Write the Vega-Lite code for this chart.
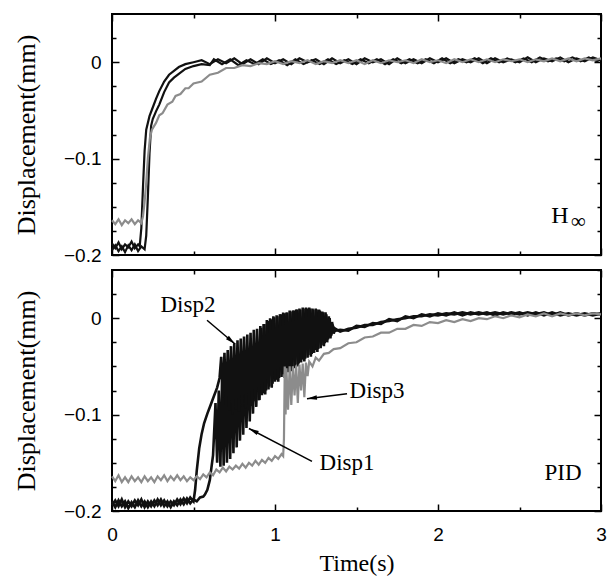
{
  "$schema": "https://vega.github.io/schema/vega-lite/v6.json",
  "background": "white",
  "padding": {"left": 12, "top": 12, "right": 5, "bottom": 5},
  "bounds": "flush",
  "spacing": 15,
  "config": {
    "view": {"stroke": "black", "strokeWidth": 2},
    "axis": {"domain": false, "grid": false, "ticks": true, "tickColor": "black", "tickWidth": 1.5, "labelColor": "black", "labelFont": "Liberation Sans", "labelFontSize": 19, "titleFont": "Liberation Serif", "titleFontSize": 26, "titleFontWeight": "normal", "titleColor": "black", "labelFlush": false, "labelOverlap": false}
  },
  "datasets": {
    "H1": [{"t":0,"v":-0.188},{"t":0.02,"v":-0.193},{"t":0.04,"v":-0.187},{"t":0.06,"v":-0.194},{"t":0.08,"v":-0.189},{"t":0.1,"v":-0.192},{"t":0.12,"v":-0.186},{"t":0.14,"v":-0.193},{"t":0.16,"v":-0.189},{"t":0.17,"v":-0.191},{"t":0.18,"v":-0.172},{"t":0.19,"v":-0.13},{"t":0.2,"v":-0.092},{"t":0.21,"v":-0.07},{"t":0.23,"v":-0.056},{"t":0.25,"v":-0.047},{"t":0.27,"v":-0.038},{"t":0.29,"v":-0.03},{"t":0.32,"v":-0.02},{"t":0.35,"v":-0.013},{"t":0.38,"v":-0.009},{"t":0.41,"v":-0.005},{"t":0.45,"v":-0.002},{"t":0.5,"v":0.0},{"t":0.55,"v":0.002},{"t":0.6,"v":-0.002},{"t":0.65,"v":0.003},{"t":0.7,"v":-0.001},{"t":0.75,"v":0.004},{"t":0.8,"v":-0.002},{"t":0.85,"v":0.003},{"t":0.9,"v":-0.002},{"t":0.95,"v":0.004},{"t":1,"v":-0.001},{"t":1.05,"v":0.003},{"t":1.1,"v":-0.002},{"t":1.15,"v":0.004},{"t":1.2,"v":0.0},{"t":1.25,"v":0.003},{"t":1.3,"v":-0.002},{"t":1.35,"v":0.004},{"t":1.4,"v":-0.001},{"t":1.45,"v":0.003},{"t":1.5,"v":-0.002},{"t":1.55,"v":0.004},{"t":1.6,"v":0.0},{"t":1.65,"v":0.003},{"t":1.7,"v":-0.002},{"t":1.75,"v":0.004},{"t":1.8,"v":-0.001},{"t":1.85,"v":0.003},{"t":1.9,"v":-0.001},{"t":1.95,"v":0.004},{"t":2,"v":0.0},{"t":2.05,"v":0.004},{"t":2.1,"v":-0.001},{"t":2.15,"v":0.003},{"t":2.2,"v":0.0},{"t":2.25,"v":0.004},{"t":2.3,"v":-0.001},{"t":2.35,"v":0.004},{"t":2.4,"v":0.0},{"t":2.45,"v":0.003},{"t":2.5,"v":0.0},{"t":2.55,"v":0.005},{"t":2.6,"v":0.0},{"t":2.65,"v":0.004},{"t":2.7,"v":0.001},{"t":2.75,"v":0.005},{"t":2.8,"v":0.0},{"t":2.85,"v":0.004},{"t":2.9,"v":0.001},{"t":2.95,"v":0.005},{"t":3,"v":0.002}],
    "H2": [{"t":0,"v":-0.195},{"t":0.02,"v":-0.19},{"t":0.04,"v":-0.196},{"t":0.06,"v":-0.191},{"t":0.08,"v":-0.197},{"t":0.1,"v":-0.19},{"t":0.12,"v":-0.195},{"t":0.14,"v":-0.189},{"t":0.16,"v":-0.196},{"t":0.18,"v":-0.191},{"t":0.2,"v":-0.194},{"t":0.21,"v":-0.18},{"t":0.22,"v":-0.14},{"t":0.23,"v":-0.095},{"t":0.24,"v":-0.066},{"t":0.25,"v":-0.059},{"t":0.27,"v":-0.051},{"t":0.29,"v":-0.044},{"t":0.32,"v":-0.031},{"t":0.35,"v":-0.021},{"t":0.38,"v":-0.016},{"t":0.41,"v":-0.012},{"t":0.45,"v":-0.007},{"t":0.5,"v":-0.004},{"t":0.55,"v":-0.002},{"t":0.6,"v":-0.003},{"t":0.625,"v":0.003},{"t":0.675,"v":-0.002},{"t":0.725,"v":0.003},{"t":0.775,"v":-0.003},{"t":0.825,"v":0.002},{"t":0.875,"v":-0.002},{"t":0.925,"v":0.003},{"t":0.975,"v":-0.002},{"t":1.025,"v":0.002},{"t":1.075,"v":-0.003},{"t":1.125,"v":0.003},{"t":1.175,"v":-0.002},{"t":1.225,"v":0.002},{"t":1.275,"v":-0.002},{"t":1.325,"v":0.003},{"t":1.375,"v":-0.002},{"t":1.425,"v":0.002},{"t":1.475,"v":-0.002},{"t":1.525,"v":0.003},{"t":1.575,"v":-0.001},{"t":1.625,"v":0.003},{"t":1.675,"v":-0.002},{"t":1.725,"v":0.003},{"t":1.775,"v":-0.001},{"t":1.825,"v":0.003},{"t":1.875,"v":-0.001},{"t":1.925,"v":0.003},{"t":1.975,"v":-0.001},{"t":2.025,"v":0.004},{"t":2.075,"v":-0.001},{"t":2.125,"v":0.003},{"t":2.175,"v":0.0},{"t":2.225,"v":0.004},{"t":2.275,"v":-0.001},{"t":2.325,"v":0.004},{"t":2.375,"v":0.0},{"t":2.425,"v":0.004},{"t":2.475,"v":0.0},{"t":2.525,"v":0.004},{"t":2.575,"v":0.0},{"t":2.625,"v":0.005},{"t":2.675,"v":0.001},{"t":2.725,"v":0.004},{"t":2.775,"v":0.001},{"t":2.825,"v":0.005},{"t":2.875,"v":0.001},{"t":2.925,"v":0.005},{"t":2.975,"v":0.001},{"t":3,"v":0.003}],
    "H3": [{"t":0,"v":-0.164},{"t":0.02,"v":-0.168},{"t":0.04,"v":-0.163},{"t":0.06,"v":-0.169},{"t":0.08,"v":-0.164},{"t":0.1,"v":-0.167},{"t":0.12,"v":-0.163},{"t":0.14,"v":-0.168},{"t":0.16,"v":-0.164},{"t":0.18,"v":-0.167},{"t":0.19,"v":-0.16},{"t":0.2,"v":-0.145},{"t":0.21,"v":-0.125},{"t":0.22,"v":-0.1},{"t":0.233,"v":-0.078},{"t":0.245,"v":-0.07},{"t":0.27,"v":-0.063},{"t":0.29,"v":-0.055},{"t":0.31,"v":-0.053},{"t":0.34,"v":-0.044},{"t":0.37,"v":-0.041},{"t":0.39,"v":-0.035},{"t":0.42,"v":-0.033},{"t":0.45,"v":-0.027},{"t":0.47,"v":-0.027},{"t":0.5,"v":-0.022},{"t":0.55,"v":-0.02},{"t":0.6,"v":-0.013},{"t":0.65,"v":-0.011},{"t":0.7,"v":-0.006},{"t":0.75,"v":-0.006},{"t":0.8,"v":-0.003},{"t":0.85,"v":-0.004},{"t":0.9,"v":-0.001},{"t":0.95,"v":-0.002},{"t":1,"v":0.001},{"t":1.05,"v":-0.002},{"t":1.1,"v":0.001},{"t":1.15,"v":-0.001},{"t":1.2,"v":0.002},{"t":1.25,"v":-0.002},{"t":1.3,"v":0.001},{"t":1.35,"v":-0.001},{"t":1.4,"v":0.002},{"t":1.45,"v":-0.001},{"t":1.5,"v":0.002},{"t":1.55,"v":-0.002},{"t":1.6,"v":0.002},{"t":1.65,"v":-0.001},{"t":1.7,"v":0.002},{"t":1.75,"v":0.0},{"t":1.8,"v":0.002},{"t":1.85,"v":-0.001},{"t":1.9,"v":0.003},{"t":1.95,"v":0.0},{"t":2,"v":0.002},{"t":2.05,"v":-0.001},{"t":2.1,"v":0.003},{"t":2.15,"v":0.0},{"t":2.2,"v":0.003},{"t":2.25,"v":0.0},{"t":2.3,"v":0.003},{"t":2.35,"v":0.0},{"t":2.4,"v":0.003},{"t":2.45,"v":0.001},{"t":2.5,"v":0.003},{"t":2.55,"v":0.0},{"t":2.6,"v":0.003},{"t":2.65,"v":0.001},{"t":2.7,"v":0.004},{"t":2.75,"v":0.001},{"t":2.8,"v":0.004},{"t":2.85,"v":0.001},{"t":2.9,"v":0.004},{"t":2.95,"v":0.002},{"t":3,"v":0.004}],
    "P1": [{"t":0,"v":-0.194},{"t":0.02,"v":-0.189},{"t":0.04,"v":-0.195},{"t":0.06,"v":-0.188},{"t":0.08,"v":-0.196},{"t":0.1,"v":-0.19},{"t":0.12,"v":-0.195},{"t":0.14,"v":-0.189},{"t":0.16,"v":-0.194},{"t":0.18,"v":-0.188},{"t":0.2,"v":-0.196},{"t":0.22,"v":-0.19},{"t":0.24,"v":-0.195},{"t":0.26,"v":-0.189},{"t":0.28,"v":-0.194},{"t":0.3,"v":-0.188},{"t":0.32,"v":-0.195},{"t":0.34,"v":-0.19},{"t":0.36,"v":-0.196},{"t":0.38,"v":-0.19},{"t":0.4,"v":-0.194},{"t":0.42,"v":-0.188},{"t":0.44,"v":-0.193},{"t":0.46,"v":-0.187},{"t":0.48,"v":-0.192},{"t":0.5,"v":-0.188},{"t":0.52,"v":-0.19},{"t":0.54,"v":-0.186},{"t":0.56,"v":-0.185},{"t":0.57,"v":-0.183},{"t":0.585,"v":-0.178},{"t":0.6,"v":-0.168},{"t":0.61,"v":-0.155},{"t":0.62,"v":-0.142},{"t":0.635,"v":-0.088},{"t":0.645,"v":-0.15},{"t":0.655,"v":-0.075},{"t":0.665,"v":-0.154},{"t":0.675,"v":-0.065},{"t":0.685,"v":-0.153},{"t":0.695,"v":-0.06},{"t":0.705,"v":-0.15},{"t":0.715,"v":-0.055},{"t":0.725,"v":-0.146},{"t":0.735,"v":-0.05},{"t":0.745,"v":-0.14},{"t":0.755,"v":-0.046},{"t":0.765,"v":-0.134},{"t":0.775,"v":-0.043},{"t":0.785,"v":-0.127},{"t":0.795,"v":-0.04},{"t":0.805,"v":-0.121},{"t":0.815,"v":-0.038},{"t":0.825,"v":-0.114},{"t":0.835,"v":-0.036},{"t":0.845,"v":-0.107},{"t":0.855,"v":-0.033},{"t":0.865,"v":-0.099},{"t":0.875,"v":-0.03},{"t":0.885,"v":-0.092},{"t":0.895,"v":-0.027},{"t":0.905,"v":-0.085},{"t":0.915,"v":-0.01},{"t":0.925,"v":-0.078},{"t":0.935,"v":-0.006},{"t":0.945,"v":-0.075},{"t":0.955,"v":-0.003},{"t":0.965,"v":-0.071},{"t":0.975,"v":-0.001},{"t":0.985,"v":-0.068},{"t":0.995,"v":0.001},{"t":1.005,"v":-0.064},{"t":1.015,"v":0.002},{"t":1.025,"v":-0.062},{"t":1.035,"v":0.004},{"t":1.045,"v":-0.058},{"t":1.055,"v":0.005},{"t":1.065,"v":-0.057},{"t":1.075,"v":0.006},{"t":1.085,"v":-0.053},{"t":1.095,"v":0.007},{"t":1.105,"v":-0.052},{"t":1.115,"v":0.008},{"t":1.125,"v":-0.048},{"t":1.135,"v":0.009},{"t":1.145,"v":-0.047},{"t":1.155,"v":0.009},{"t":1.165,"v":-0.043},{"t":1.175,"v":0.01},{"t":1.185,"v":-0.042},{"t":1.195,"v":0.01},{"t":1.205,"v":-0.038},{"t":1.215,"v":0.01},{"t":1.225,"v":-0.037},{"t":1.235,"v":0.009},{"t":1.245,"v":-0.033},{"t":1.255,"v":0.009},{"t":1.265,"v":-0.032},{"t":1.275,"v":0.008},{"t":1.285,"v":-0.028},{"t":1.295,"v":0.006},{"t":1.305,"v":-0.026},{"t":1.315,"v":0.004},{"t":1.325,"v":-0.022},{"t":1.335,"v":0.0},{"t":1.345,"v":-0.018},{"t":1.355,"v":-0.008},{"t":1.37,"v":-0.013},{"t":1.4,"v":-0.012},{"t":1.45,"v":-0.013},{"t":1.5,"v":-0.008},{"t":1.55,"v":-0.009},{"t":1.6,"v":-0.005},{"t":1.65,"v":-0.006},{"t":1.7,"v":-0.001},{"t":1.75,"v":-0.003},{"t":1.8,"v":0.002},{"t":1.85,"v":0.0},{"t":1.9,"v":0.004},{"t":1.95,"v":0.002},{"t":2,"v":0.005},{"t":2.05,"v":0.003},{"t":2.1,"v":0.006},{"t":2.15,"v":0.003},{"t":2.2,"v":0.006},{"t":2.25,"v":0.004},{"t":2.3,"v":0.006},{"t":2.35,"v":0.003},{"t":2.4,"v":0.006},{"t":2.45,"v":0.004},{"t":2.5,"v":0.006},{"t":2.55,"v":0.003},{"t":2.6,"v":0.006},{"t":2.65,"v":0.003},{"t":2.7,"v":0.006},{"t":2.75,"v":0.003},{"t":2.8,"v":0.005},{"t":2.85,"v":0.003},{"t":2.9,"v":0.005},{"t":2.95,"v":0.003},{"t":3,"v":0.005}],
    "P2": [{"t":0,"v":-0.19},{"t":0.02,"v":-0.196},{"t":0.04,"v":-0.189},{"t":0.06,"v":-0.195},{"t":0.08,"v":-0.19},{"t":0.1,"v":-0.197},{"t":0.12,"v":-0.191},{"t":0.14,"v":-0.196},{"t":0.16,"v":-0.189},{"t":0.18,"v":-0.195},{"t":0.2,"v":-0.19},{"t":0.22,"v":-0.196},{"t":0.24,"v":-0.19},{"t":0.26,"v":-0.195},{"t":0.28,"v":-0.188},{"t":0.3,"v":-0.194},{"t":0.32,"v":-0.189},{"t":0.34,"v":-0.195},{"t":0.36,"v":-0.19},{"t":0.38,"v":-0.194},{"t":0.4,"v":-0.188},{"t":0.42,"v":-0.193},{"t":0.44,"v":-0.187},{"t":0.46,"v":-0.192},{"t":0.48,"v":-0.186},{"t":0.5,"v":-0.19},{"t":0.51,"v":-0.178},{"t":0.52,"v":-0.158},{"t":0.535,"v":-0.135},{"t":0.55,"v":-0.12},{"t":0.565,"v":-0.109},{"t":0.585,"v":-0.099},{"t":0.605,"v":-0.09},{"t":0.625,"v":-0.081},{"t":0.645,"v":-0.072},{"t":0.66,"v":-0.062},{"t":0.67,"v":-0.04},{"t":0.68,"v":-0.082},{"t":0.69,"v":-0.036},{"t":0.7,"v":-0.09},{"t":0.71,"v":-0.033},{"t":0.72,"v":-0.096},{"t":0.73,"v":-0.029},{"t":0.74,"v":-0.1},{"t":0.75,"v":-0.026},{"t":0.76,"v":-0.095},{"t":0.77,"v":-0.023},{"t":0.78,"v":-0.097},{"t":0.79,"v":-0.021},{"t":0.8,"v":-0.092},{"t":0.81,"v":-0.019},{"t":0.82,"v":-0.094},{"t":0.83,"v":-0.017},{"t":0.84,"v":-0.09},{"t":0.85,"v":-0.015},{"t":0.86,"v":-0.091},{"t":0.87,"v":-0.012},{"t":0.88,"v":-0.086},{"t":0.89,"v":-0.011},{"t":0.9,"v":-0.085},{"t":0.91,"v":-0.008},{"t":0.92,"v":-0.08},{"t":0.93,"v":-0.006},{"t":0.94,"v":-0.079},{"t":0.95,"v":-0.002},{"t":0.96,"v":-0.074},{"t":0.97,"v":0.0},{"t":0.98,"v":-0.072},{"t":0.99,"v":0.002},{"t":1,"v":-0.066},{"t":1.01,"v":0.003},{"t":1.02,"v":-0.066},{"t":1.03,"v":0.004},{"t":1.04,"v":-0.061},{"t":1.05,"v":0.006},{"t":1.06,"v":-0.062},{"t":1.07,"v":0.006},{"t":1.08,"v":-0.056},{"t":1.09,"v":0.008},{"t":1.1,"v":-0.055},{"t":1.11,"v":0.008},{"t":1.12,"v":-0.052},{"t":1.13,"v":0.009},{"t":1.14,"v":-0.05},{"t":1.15,"v":0.01},{"t":1.16,"v":-0.046},{"t":1.17,"v":0.011},{"t":1.18,"v":-0.045},{"t":1.19,"v":0.011},{"t":1.2,"v":-0.041},{"t":1.21,"v":0.011},{"t":1.22,"v":-0.04},{"t":1.23,"v":0.01},{"t":1.24,"v":-0.036},{"t":1.25,"v":0.01},{"t":1.26,"v":-0.035},{"t":1.27,"v":0.009},{"t":1.28,"v":-0.031},{"t":1.29,"v":0.007},{"t":1.3,"v":-0.029},{"t":1.31,"v":0.006},{"t":1.32,"v":-0.025},{"t":1.33,"v":0.002},{"t":1.34,"v":-0.021},{"t":1.35,"v":-0.004},{"t":1.36,"v":-0.016},{"t":1.37,"v":-0.011},{"t":1.4,"v":-0.014},{"t":1.45,"v":-0.011},{"t":1.5,"v":-0.01},{"t":1.55,"v":-0.007},{"t":1.6,"v":-0.007},{"t":1.65,"v":-0.004},{"t":1.7,"v":-0.003},{"t":1.75,"v":-0.001},{"t":1.8,"v":0.0},{"t":1.85,"v":0.002},{"t":1.9,"v":0.002},{"t":1.95,"v":0.004},{"t":2,"v":0.003},{"t":2.05,"v":0.005},{"t":2.1,"v":0.004},{"t":2.15,"v":0.006},{"t":2.2,"v":0.004},{"t":2.25,"v":0.006},{"t":2.3,"v":0.004},{"t":2.35,"v":0.006},{"t":2.4,"v":0.004},{"t":2.45,"v":0.006},{"t":2.5,"v":0.004},{"t":2.55,"v":0.006},{"t":2.6,"v":0.004},{"t":2.65,"v":0.006},{"t":2.7,"v":0.003},{"t":2.75,"v":0.006},{"t":2.8,"v":0.003},{"t":2.85,"v":0.005},{"t":2.9,"v":0.003},{"t":2.95,"v":0.005},{"t":3,"v":0.004}],
    "P3": [{"t":0,"v":-0.164},{"t":0.02,"v":-0.169},{"t":0.04,"v":-0.163},{"t":0.06,"v":-0.17},{"t":0.08,"v":-0.165},{"t":0.1,"v":-0.17},{"t":0.12,"v":-0.164},{"t":0.14,"v":-0.169},{"t":0.16,"v":-0.165},{"t":0.18,"v":-0.17},{"t":0.2,"v":-0.164},{"t":0.22,"v":-0.169},{"t":0.24,"v":-0.165},{"t":0.26,"v":-0.17},{"t":0.28,"v":-0.164},{"t":0.3,"v":-0.168},{"t":0.32,"v":-0.163},{"t":0.34,"v":-0.169},{"t":0.36,"v":-0.164},{"t":0.38,"v":-0.168},{"t":0.4,"v":-0.163},{"t":0.42,"v":-0.168},{"t":0.44,"v":-0.164},{"t":0.46,"v":-0.169},{"t":0.48,"v":-0.165},{"t":0.5,"v":-0.168},{"t":0.52,"v":-0.164},{"t":0.54,"v":-0.167},{"t":0.56,"v":-0.162},{"t":0.58,"v":-0.165},{"t":0.6,"v":-0.16},{"t":0.62,"v":-0.163},{"t":0.64,"v":-0.157},{"t":0.66,"v":-0.16},{"t":0.68,"v":-0.155},{"t":0.7,"v":-0.159},{"t":0.72,"v":-0.154},{"t":0.74,"v":-0.157},{"t":0.76,"v":-0.153},{"t":0.78,"v":-0.156},{"t":0.8,"v":-0.151},{"t":0.82,"v":-0.155},{"t":0.84,"v":-0.15},{"t":0.86,"v":-0.153},{"t":0.88,"v":-0.148},{"t":0.9,"v":-0.152},{"t":0.92,"v":-0.147},{"t":0.94,"v":-0.15},{"t":0.96,"v":-0.145},{"t":0.98,"v":-0.148},{"t":1,"v":-0.143},{"t":1.02,"v":-0.146},{"t":1.04,"v":-0.141},{"t":1.05,"v":-0.143},{"t":1.055,"v":-0.125},{"t":1.06,"v":-0.05},{"t":1.065,"v":-0.1},{"t":1.07,"v":-0.052},{"t":1.08,"v":-0.095},{"t":1.09,"v":-0.05},{"t":1.1,"v":-0.09},{"t":1.11,"v":-0.05},{"t":1.12,"v":-0.08},{"t":1.13,"v":-0.049},{"t":1.14,"v":-0.088},{"t":1.15,"v":-0.048},{"t":1.16,"v":-0.075},{"t":1.17,"v":-0.047},{"t":1.18,"v":-0.082},{"t":1.19,"v":-0.046},{"t":1.2,"v":-0.06},{"t":1.21,"v":-0.045},{"t":1.23,"v":-0.05},{"t":1.25,"v":-0.041},{"t":1.27,"v":-0.044},{"t":1.3,"v":-0.037},{"t":1.33,"v":-0.036},{"t":1.36,"v":-0.032},{"t":1.4,"v":-0.031},{"t":1.45,"v":-0.026},{"t":1.5,"v":-0.025},{"t":1.55,"v":-0.02},{"t":1.6,"v":-0.019},{"t":1.65,"v":-0.015},{"t":1.7,"v":-0.015},{"t":1.75,"v":-0.011},{"t":1.8,"v":-0.011},{"t":1.85,"v":-0.007},{"t":1.9,"v":-0.008},{"t":1.95,"v":-0.004},{"t":2,"v":-0.005},{"t":2.05,"v":-0.002},{"t":2.1,"v":-0.004},{"t":2.15,"v":-0.001},{"t":2.2,"v":-0.003},{"t":2.25,"v":0.0},{"t":2.3,"v":-0.001},{"t":2.35,"v":0.002},{"t":2.4,"v":0.0},{"t":2.45,"v":0.003},{"t":2.5,"v":0.001},{"t":2.55,"v":0.004},{"t":2.6,"v":0.002},{"t":2.65,"v":0.005},{"t":2.7,"v":0.002},{"t":2.75,"v":0.005},{"t":2.8,"v":0.003},{"t":2.85,"v":0.005},{"t":2.9,"v":0.003},{"t":2.95,"v":0.005},{"t":3,"v":0.004}],
    "arrows": [{"label":"Disp2","t":0.583,"v":-0.0021,"t2":0.755,"v2":-0.0268},{"label":"Disp3","t":1.442,"v":-0.0784,"t2":1.196,"v2":-0.0835},{"label":"Disp1","t":1.227,"v":-0.1485,"t2":0.84,"v2":-0.1144}]
  },
  "vconcat": [
    {
      "width": 489,
      "height": 241,
      "resolve": {"axis": {"x": "independent", "y": "independent"}},
      "layer": [
        {
          "data": {"name": "H1"},
          "mark": {"type": "line", "color": "#111111", "strokeWidth": 2.2},
          "encoding": {
            "x": {"field": "t", "type": "quantitative", "scale": {"domain": [0, 3], "nice": false, "zero": false},
              "axis": {"orient": "bottom", "values": [0, 0.5, 1, 1.5, 2, 2.5, 3], "labels": false, "title": null,
                "tickSize": {"condition": {"test": "datum.value % 1 === 0", "value": -7}, "value": -4}}},
            "y": {"field": "v", "type": "quantitative", "scale": {"domain": [-0.2, 0.05], "nice": false, "zero": false},
              "axis": {"orient": "left", "values": [-0.2, -0.175, -0.15, -0.125, -0.1, -0.075, -0.05, -0.025, 0, 0.025],
                "labelExpr": "abs(datum.value) < 0.000001 ? '0' : (abs(datum.value * 10 - round(datum.value * 10)) < 0.000001 ? replace(format(datum.value, '.1f'), '-', '−') : '')",
                "labelPadding": 18, "title": "Displacement(mm)", "titlePadding": 24,
                "tickSize": {"condition": {"test": "abs(datum.value * 10 - round(datum.value * 10)) < 0.000001", "value": -7}, "value": -4}}}
          }
        },
        {
          "data": {"name": "H2"},
          "mark": {"type": "line", "color": "#111111", "strokeWidth": 2.2},
          "encoding": {
            "x": {"field": "t", "type": "quantitative", "scale": {"domain": [0, 3], "nice": false, "zero": false},
              "axis": {"orient": "top", "values": [0, 0.5, 1, 1.5, 2, 2.5, 3], "labels": false, "title": null,
                "tickSize": {"condition": {"test": "datum.value % 1 === 0", "value": -7}, "value": -4}}},
            "y": {"field": "v", "type": "quantitative", "scale": {"domain": [-0.2, 0.05], "nice": false, "zero": false},
              "axis": {"orient": "right", "values": [-0.2, -0.175, -0.15, -0.125, -0.1, -0.075, -0.05, -0.025, 0, 0.025, 0.05], "labels": false, "title": null,
                "tickSize": {"condition": {"test": "abs(datum.value * 10 - round(datum.value * 10)) < 0.000001", "value": -7}, "value": -4}}}
          }
        },
        {
          "data": {"name": "H3"},
          "mark": {"type": "line", "color": "#8c8c8c", "strokeWidth": 2.2},
          "encoding": {
            "x": {"field": "t", "type": "quantitative", "axis": null},
            "y": {"field": "v", "type": "quantitative", "axis": null}
          }
        },
        {
          "data": {"values": [{"label": "H", "t": 2.748, "v": -0.16}]},
          "mark": {"type": "text", "font": "Liberation Serif", "fontSize": 24, "baseline": "middle", "color": "black"},
          "encoding": {
            "x": {"field": "t", "type": "quantitative", "axis": null},
            "y": {"field": "v", "type": "quantitative", "axis": null},
            "text": {"field": "label"}
          }
        },
        {
          "data": {"values": [{"label": "∞", "t": 2.86, "v": -0.166}]},
          "mark": {"type": "text", "font": "Liberation Serif", "fontSize": 21, "baseline": "middle", "color": "black"},
          "encoding": {
            "x": {"field": "t", "type": "quantitative", "axis": null},
            "y": {"field": "v", "type": "quantitative", "axis": null},
            "text": {"field": "label"}
          }
        }
      ]
    },
    {
      "width": 489,
      "height": 241,
      "resolve": {"axis": {"x": "independent", "y": "independent"}},
      "layer": [
        {
          "data": {"name": "P1"},
          "mark": {"type": "line", "color": "#111111", "strokeWidth": 2.6},
          "encoding": {
            "x": {"field": "t", "type": "quantitative", "scale": {"domain": [0, 3], "nice": false, "zero": false},
              "axis": {"orient": "bottom", "values": [0, 0.5, 1, 1.5, 2, 2.5, 3],
                "labelExpr": "datum.value % 1 === 0 ? format(datum.value, 'd') : ''",
                "labelPadding": 21, "title": "Time(s)", "titleFontSize": 24, "titlePadding": 4,
                "tickSize": {"condition": {"test": "datum.value % 1 === 0", "value": -7}, "value": -4}}},
            "y": {"field": "v", "type": "quantitative", "scale": {"domain": [-0.2, 0.05], "nice": false, "zero": false},
              "axis": {"orient": "left", "values": [-0.2, -0.175, -0.15, -0.125, -0.1, -0.075, -0.05, -0.025, 0, 0.025],
                "labelExpr": "abs(datum.value) < 0.000001 ? '0' : (abs(datum.value * 10 - round(datum.value * 10)) < 0.000001 ? replace(format(datum.value, '.1f'), '-', '−') : '')",
                "labelPadding": 18, "title": "Displacement(mm)", "titlePadding": 24,
                "tickSize": {"condition": {"test": "abs(datum.value * 10 - round(datum.value * 10)) < 0.000001", "value": -7}, "value": -4}}}
          }
        },
        {
          "data": {"name": "P2"},
          "mark": {"type": "line", "color": "#111111", "strokeWidth": 2.6},
          "encoding": {
            "x": {"field": "t", "type": "quantitative", "scale": {"domain": [0, 3], "nice": false, "zero": false},
              "axis": {"orient": "top", "values": [0, 0.5, 1, 1.5, 2, 2.5, 3], "labels": false, "title": null,
                "tickSize": {"condition": {"test": "datum.value % 1 === 0", "value": -7}, "value": -4}}},
            "y": {"field": "v", "type": "quantitative", "scale": {"domain": [-0.2, 0.05], "nice": false, "zero": false},
              "axis": {"orient": "right", "values": [-0.2, -0.175, -0.15, -0.125, -0.1, -0.075, -0.05, -0.025, 0, 0.025, 0.05], "labels": false, "title": null,
                "tickSize": {"condition": {"test": "abs(datum.value * 10 - round(datum.value * 10)) < 0.000001", "value": -7}, "value": -4}}}
          }
        },
        {
          "data": {"name": "P3"},
          "mark": {"type": "line", "color": "#8c8c8c", "strokeWidth": 2.2},
          "encoding": {
            "x": {"field": "t", "type": "quantitative", "axis": null},
            "y": {"field": "v", "type": "quantitative", "axis": null}
          }
        },
        {
          "data": {"values": [{"label": "Disp2", "t": 0.466, "v": 0.0134}, {"label": "Disp3", "t": 1.626, "v": -0.075}, {"label": "Disp1", "t": 1.442, "v": -0.1505}, {"label": "PID", "t": 2.767, "v": -0.161}]},
          "mark": {"type": "text", "font": "Liberation Serif", "fontSize": 23, "baseline": "middle", "color": "black"},
          "encoding": {
            "x": {"field": "t", "type": "quantitative", "axis": null},
            "y": {"field": "v", "type": "quantitative", "axis": null},
            "text": {"field": "label"}
          }
        },
        {
          "data": {"name": "arrows"},
          "mark": {"type": "rule", "color": "black", "strokeWidth": 1.5},
          "encoding": {
            "x": {"field": "t", "type": "quantitative", "axis": null},
            "y": {"field": "v", "type": "quantitative", "axis": null},
            "x2": {"field": "t2"},
            "y2": {"field": "v2"}
          }
        },
        {
          "data": {"name": "arrows"},
          "transform": [{"filter": "datum.label === 'Disp2'"}],
          "mark": {"type": "point", "shape": "M0,0L0.45,2L-0.45,2Z", "filled": true, "color": "black", "opacity": 1, "size": 100, "angle": 130.4},
          "encoding": {
            "x": {"field": "t2", "type": "quantitative", "axis": null},
            "y": {"field": "v2", "type": "quantitative", "axis": null}
          }
        },
        {
          "data": {"name": "arrows"},
          "transform": [{"filter": "datum.label === 'Disp3'"}],
          "mark": {"type": "point", "shape": "M0,0L0.45,2L-0.45,2Z", "filled": true, "color": "black", "opacity": 1, "size": 100, "angle": 263},
          "encoding": {
            "x": {"field": "t2", "type": "quantitative", "axis": null},
            "y": {"field": "v2", "type": "quantitative", "axis": null}
          }
        },
        {
          "data": {"name": "arrows"},
          "transform": [{"filter": "datum.label === 'Disp1'"}],
          "mark": {"type": "point", "shape": "M0,0L0.45,2L-0.45,2Z", "filled": true, "color": "black", "opacity": 1, "size": 100, "angle": 297.5},
          "encoding": {
            "x": {"field": "t2", "type": "quantitative", "axis": null},
            "y": {"field": "v2", "type": "quantitative", "axis": null}
          }
        }
      ]
    }
  ]
}
